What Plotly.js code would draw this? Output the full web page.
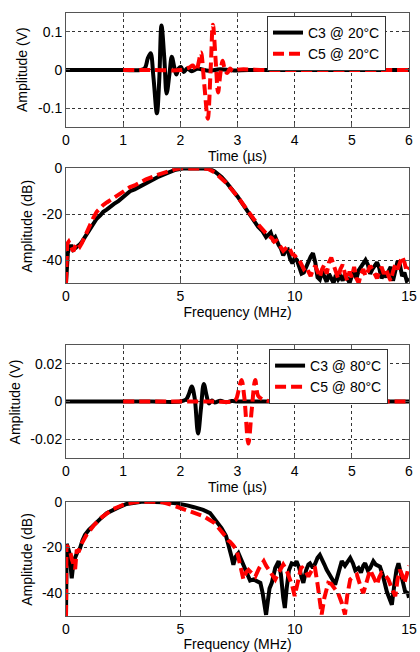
<!DOCTYPE html>
<html>
<head>
<meta charset="utf-8">
<script src="https://cdn.plot.ly/plotly-3.0.1.min.js"></script>
<style>html,body{margin:0;padding:0;background:#fff;}#chart{width:420px;height:652px;}</style>
</head>
<body>
<div id="chart"></div>
<script>
// ---------- Data ----------
// Panel 1: time signals at 20 °C
const t_c3_20 = [0, 0.5, 1.0, 1.3, 1.38, 1.43, 1.48, 1.53, 1.59, 1.63, 1.67, 1.72, 1.76, 1.81, 1.85, 1.89, 1.93, 1.97, 2.01, 2.06, 2.12, 2.2, 2.3, 2.5, 2.7, 2.9, 3.2, 4, 5, 6];
const v_c3_20 = [0, 0, 0, 0, 0.005, 0.03, 0.044, -0.02, -0.114, -0.03, 0.117, 0.03, -0.062, -0.01, 0.035, 0.01, -0.012, 0.004, 0.008, -0.005, 0.004, -0.003, 0.003, -0.002, 0.002, -0.001, 0, 0, 0, 0];
const t_c5_20 = [1, 1.5, 2, 2.15, 2.22, 2.28, 2.32, 2.36, 2.42, 2.48, 2.53, 2.57, 2.62, 2.66, 2.70, 2.74, 2.78, 2.82, 2.87, 2.92, 3.0, 3.5, 4, 5, 6];
const v_c5_20 = [0, 0, 0, 0.006, 0.012, -0.002, 0.02, 0.046, -0.04, -0.128, 0.0, 0.119, 0.02, -0.059, -0.01, 0.024, 0.0, -0.008, 0.004, -0.003, 0.001, 0, 0, 0, 0];

// Panel 2: spectra at 20 °C
const f_c3_20 = [0, 0.03, 0.08, 0.15, 0.25, 0.32, 0.39, 0.46, 0.54, 0.62, 0.7, 0.76, 0.9, 1.05, 1.2, 1.34, 1.5, 1.63, 1.78, 1.92, 2.1, 2.29, 2.5, 2.8, 3.0, 3.5, 4.0, 4.5, 4.8, 5.1, 5.5, 6.0, 6.3, 6.5, 6.8, 7.0, 7.5, 8.0, 8.2, 8.4, 8.6, 8.75, 8.85, 8.95, 9.05, 9.15, 9.3, 9.4, 9.5, 9.6, 9.7, 9.8, 9.9, 10.0, 10.1, 10.2, 10.3, 10.4, 10.5, 10.6, 10.7, 10.8, 10.9, 11.0, 11.1, 11.2, 11.3, 11.4, 11.5, 11.6, 11.7, 11.8, 11.9, 12.0, 12.1, 12.2, 12.3, 12.4, 12.5, 12.6, 12.7, 12.8, 12.9, 13.0, 13.1, 13.2, 13.3, 13.4, 13.5, 13.6, 13.7, 13.8, 13.9, 14.0, 14.1, 14.2, 14.3, 14.4, 14.5, 14.6, 14.7, 14.8, 14.9, 15.0];
const a_c3_20 = [-50, -44, -37, -34, -34, -35.5, -35, -34.5, -34, -33, -32, -31, -29, -26.8, -24.5, -22, -20.5, -19, -18, -16.7, -15.5, -14.3, -12.5, -10, -9.2, -6.3, -3.9, -1.8, -0.6, -0.1, 0, 0, -0.3, -1.4, -3.8, -6, -12.3, -19.5, -23, -25.5, -27.5, -30, -29, -28, -31, -30, -33.5, -35, -38, -36, -35.5, -39.5, -41.5, -39, -40, -42.5, -46, -45.5, -43, -40.5, -38.5, -37, -41, -47.5, -48.5, -45, -47, -49.5, -46, -48, -50, -46.5, -48.5, -47, -49, -46, -48, -50, -47, -45.5, -48, -44.5, -43, -41.5, -40, -42, -46, -44, -42.5, -41, -43.5, -48, -46, -47.5, -45, -43, -49, -44, -40.5, -42, -47, -45.5, -49, -48];
const f_c5_20 = [0, 0.02, 0.05, 0.12, 0.2, 0.32, 0.4, 0.47, 0.55, 0.61, 0.7, 0.83, 0.95, 1.05, 1.2, 1.34, 1.5, 1.63, 1.8, 2.07, 2.3, 2.51, 2.8, 3.0, 3.5, 4.0, 4.5, 4.8, 5.0, 5.5, 6.0, 6.2, 6.5, 6.8, 7.0, 7.5, 8.0, 8.2, 8.4, 8.6, 8.8, 9.0, 9.1, 9.2, 9.3, 9.4, 9.5, 9.6, 9.7, 9.8, 9.9, 10.0, 10.1, 10.2, 10.3, 10.4, 10.5, 10.6, 10.7, 10.8, 10.9, 11.0, 11.1, 11.2, 11.3, 11.4, 11.5, 11.6, 11.7, 11.8, 11.9, 12.0, 12.1, 12.2, 12.3, 12.4, 12.5, 12.6, 12.7, 12.8, 12.9, 13.0, 13.1, 13.2, 13.3, 13.4, 13.5, 13.6, 13.7, 13.8, 13.9, 14.0, 14.1, 14.2, 14.3, 14.4, 14.5, 14.6, 14.7, 14.8, 14.9, 15.0];
const a_c5_20 = [-50, -38, -33, -32, -34, -36.2, -34, -32.6, -33, -34, -32.5, -29.7, -26.5, -24, -21.5, -19, -17.3, -16, -14.8, -13, -11.5, -10.2, -8.2, -7.5, -4.8, -2.9, -1.2, -0.3, 0, 0, 0, -0.2, -1.8, -4.3, -6.3, -12.3, -19.6, -22, -24.5, -27, -29, -30.5, -32, -31.5, -33, -34, -36, -35, -34, -35.5, -37.5, -38, -39.5, -40, -42, -44, -43, -45, -47, -44, -42.5, -45, -47.5, -44, -42, -46, -41, -39, -42, -45, -48, -44, -42, -46, -49, -45, -47.5, -43, -48, -50, -46, -44, -47, -45, -42.5, -44, -46, -48, -45, -43, -46, -44, -47, -49, -45, -42, -44, -41, -38.5, -41, -45, -43];

// Panel 3: time signals at 80 °C
const t_c3_80 = [0, 0.5, 1, 1.5, 2.0, 2.1, 2.15, 2.2, 2.25, 2.31, 2.36, 2.41, 2.46, 2.5, 2.55, 2.6, 2.7, 2.8, 2.9, 3.0, 3.5, 4, 5, 6];
const v_c3_80 = [0, 0, 0, 0, 0, 0.001, 0.004, 0.0079, 0.002, -0.017, -0.004, 0.0093, 0.003, -0.001, 0.0005, -0.0005, 0.0004, -0.0004, 0.0003, 0, 0, 0, 0, 0];
const t_c5_80 = [1, 1.5, 2, 2.5, 2.9, 2.97, 3.02, 3.07, 3.12, 3.19, 3.25, 3.31, 3.36, 3.42, 3.48, 3.55, 3.7, 4, 5, 6];
const v_c5_80 = [0, 0, 0, 0, 0, 0.001, 0.006, 0.0114, 0.002, -0.0223, -0.004, 0.0114, 0.003, 0.0015, 0.0008, 0.0002, 0, 0, 0, 0];

// Panel 4: spectra at 80 °C
const f_c3_80 = [0, 0.03, 0.08, 0.15, 0.2, 0.25, 0.3, 0.39, 0.5, 0.61, 0.72, 0.83, 1.0, 1.2, 1.5, 1.78, 2.0, 2.3, 2.65, 3.0, 3.3, 3.6, 4.0, 4.5, 4.8, 5.0, 5.3, 5.6, 6.0, 6.3, 6.6, 6.8, 7.0, 7.17, 7.25, 7.32, 7.42, 7.54, 7.65, 7.75, 7.84, 7.95, 8.05, 8.2, 8.35, 8.5, 8.6, 8.7, 8.75, 8.82, 8.9, 9.0, 9.15, 9.3, 9.4, 9.5, 9.57, 9.65, 9.75, 9.87, 10.0, 10.08, 10.2, 10.3, 10.38, 10.5, 10.6, 10.67, 10.8, 10.9, 11.0, 11.1, 11.2, 11.3, 11.4, 11.55, 11.65, 11.77, 11.9, 12.06, 12.2, 12.3, 12.43, 12.55, 12.65, 12.79, 12.9, 13.0, 13.08, 13.2, 13.3, 13.44, 13.55, 13.73, 13.85, 14.03, 14.15, 14.25, 14.35, 14.45, 14.54, 14.65, 14.75, 14.83, 14.95, 15.0];
const a_c3_80 = [-50, -18.5, -20, -22.5, -28, -33.5, -29, -24.7, -22, -20.4, -17, -14.5, -12.3, -10.2, -7.5, -5, -3.8, -2.5, -1, -0.4, 0, 0, 0, -0.3, -0.7, -1, -1.6, -2.4, -3.6, -5, -8.5, -11.5, -15, -20.5, -24.5, -27.6, -24, -22.5, -25, -28, -29.5, -32, -34.5, -34, -35, -35.5, -40, -47, -49.5, -44, -38, -35.5, -29, -26, -32, -42, -46.5, -38, -30, -27, -27.5, -26, -29, -33, -35.5, -30, -27.5, -27, -29, -27, -24.5, -23.3, -25, -27.5, -29.8, -32, -34, -36.3, -31, -26, -28, -26.5, -24.6, -27, -30, -29, -31, -28, -26.9, -30, -29, -26, -27.5, -28.4, -32, -39.3, -43, -45.1, -37, -30, -26.9, -31, -36, -39.3, -40, -42];
const f_c5_80 = [0, 0.02, 0.08, 0.17, 0.25, 0.32, 0.4, 0.47, 0.55, 0.69, 0.8, 0.9, 1.0, 1.2, 1.5, 1.78, 2.0, 2.3, 2.65, 3.0, 3.3, 4.0, 4.2, 4.5, 4.8, 5.0, 5.5, 6.0, 6.5, 6.8, 7.0, 7.1, 7.17, 7.3, 7.46, 7.6, 7.76, 7.87, 7.98, 8.1, 8.28, 8.45, 8.65, 8.75, 8.86, 9.0, 9.15, 9.3, 9.5, 9.65, 9.79, 9.9, 10.0, 10.15, 10.29, 10.45, 10.6, 10.75, 10.88, 11.0, 11.1, 11.18, 11.3, 11.47, 11.6, 11.77, 11.9, 12.06, 12.2, 12.3, 12.43, 12.55, 12.72, 12.85, 13.0, 13.15, 13.3, 13.45, 13.6, 13.7, 13.8, 13.95, 14.1, 14.25, 14.4, 14.5, 14.6, 14.7, 14.8, 14.9, 15.0];
const a_c5_80 = [-50, -19, -20, -21, -25, -27.6, -29.5, -21, -22, -18.2, -16, -14.5, -13.2, -10.5, -7.3, -4.9, -3.5, -2.2, -0.8, -0.2, 0, 0, -0.2, -1, -2, -2.7, -4.6, -6.3, -9.3, -12.8, -15.5, -17, -17.5, -19, -21, -27, -34, -31, -29.8, -31, -32.7, -29, -26, -28, -29.8, -32, -34, -31, -27.5, -30, -34, -37, -41.3, -34, -28.4, -30, -32.7, -30, -28.4, -36, -45, -49.3, -42, -35.5, -36, -38.4, -40, -44.3, -49.3, -41, -34, -33, -31.9, -36, -40, -35, -29.8, -33, -36.3, -33, -31.1, -32, -34, -38, -41.3, -34, -29.8, -32, -35.5, -32, -28];

// Names, axis titles and tick labels
const names = ['C3 @ 20°C', 'C5 @ 20°C', 'C3 @ 80°C', 'C5 @ 80°C'];
const yTitles = ['Amplitude (V)', 'Amplitude (dB)', 'Amplitude (V)', 'Amplitude (dB)'];
const timeTicks = [0, 1, 2, 3, 4, 5, 6];
const freqTicks = [0, 5, 10, 15];
const v20Ticks = [-0.1, 0, 0.1];
const v20Text = ['-0.1', '0', '0.1'];
const v80Ticks = [-0.02, 0, 0.02];
const v80Text = ['-0.02', '0', '0.02'];
const dbTicks = [-40, -20, 0];
const dbText = ['-40', '-20', '0'];

// ---------- Styling ----------
const FONT = 'Liberation Sans, Arial, sans-serif';
const BLACK = {color: '#000000', width: 4};
const RED = {color: '#ff0000', width: 4, dash: '11px,5px'};

function xa(range, ticks, title, anchor) {
  return {
    domain: [0, 1], anchor: anchor, range: range,
    tickmode: 'array', tickvals: ticks, ticktext: ticks.map(String),
    showgrid: true, gridcolor: '#333333', griddash: 'dot', gridwidth: 1,
    zeroline: false, showline: true, linecolor: '#555555', linewidth: 1, mirror: 'ticks',
    ticks: 'inside', ticklen: 4, tickcolor: '#555555',
    tickfont: {size: 14, family: FONT, color: '#000'},
    title: {text: title, font: {size: 14, family: FONT, color: '#000'}, standoff: 2}
  };
}
function ya(domain, range, ticks, text, anchor) {
  return {
    domain: domain, anchor: anchor, range: range,
    tickmode: 'array', tickvals: ticks, ticktext: text,
    showgrid: true, gridcolor: '#333333', griddash: 'dot', gridwidth: 1,
    zeroline: false, showline: true, linecolor: '#555555', linewidth: 1, mirror: 'ticks',
    ticks: 'inside', ticklen: 4, tickcolor: '#555555',
    tickfont: {size: 14, family: FONT, color: '#000'}
  };
}

const traces = [
  {x: t_c3_20, y: v_c3_20, xaxis: 'x', yaxis: 'y', mode: 'lines', name: names[0], line: Object.assign({shape: 'spline'}, BLACK), legend: 'legend'},
  {x: t_c5_20, y: v_c5_20, xaxis: 'x', yaxis: 'y', mode: 'lines', name: names[1], line: Object.assign({shape: 'spline'}, RED), legend: 'legend'},
  {x: f_c3_20, y: a_c3_20, xaxis: 'x2', yaxis: 'y2', mode: 'lines', showlegend: false, line: BLACK},
  {x: f_c5_20, y: a_c5_20, xaxis: 'x2', yaxis: 'y2', mode: 'lines', showlegend: false, line: RED},
  {x: t_c3_80, y: v_c3_80, xaxis: 'x3', yaxis: 'y3', mode: 'lines', name: names[2], line: Object.assign({shape: 'spline'}, BLACK), legend: 'legend2'},
  {x: t_c5_80, y: v_c5_80, xaxis: 'x3', yaxis: 'y3', mode: 'lines', name: names[3], line: Object.assign({shape: 'spline'}, RED), legend: 'legend2'},
  {x: f_c3_80, y: a_c3_80, xaxis: 'x4', yaxis: 'y4', mode: 'lines', showlegend: false, line: BLACK},
  {x: f_c5_80, y: a_c5_80, xaxis: 'x4', yaxis: 'y4', mode: 'lines', showlegend: false, line: RED}
];

const legendStyle = (x, y) => ({
  x: x, y: y, xanchor: 'left', yanchor: 'top',
  bgcolor: '#ffffff', bordercolor: '#333333', borderwidth: 1,
  font: {size: 14, family: FONT, color: '#000'},
  tracegroupgap: 0, itemwidth: 30
});

// y-axis titles as rotated paper annotations (x in plot-area fraction, y = panel centre)
const titleX = [-0.128, -0.114, -0.149, -0.114];
const titleY = [0.8926, 0.6539, 0.3842, 0.1428];
const annotations = yTitles.map((t, i) => ({
  text: t, xref: 'paper', yref: 'paper', x: titleX[i], y: titleY[i],
  xanchor: 'center', yanchor: 'middle', textangle: -90, showarrow: false,
  font: {size: 14, family: FONT, color: '#000'}
}));

const layout = {
  width: 420, height: 652,
  margin: {l: 66, r: 11, t: 0, b: 0},
  paper_bgcolor: '#ffffff', plot_bgcolor: '#ffffff',
  font: {family: FONT, size: 14, color: '#000'},
  showlegend: true,
  xaxis: xa([0, 6], timeTicks, 'Time (µs)', 'y'),
  yaxis: ya([0.8052, 0.9801], [-0.15, 0.15], v20Ticks, v20Text, 'x'),
  xaxis2: xa([0, 15], freqTicks, 'Frequency (MHz)', 'y2'),
  yaxis2: ya([0.5660, 0.7419], [-50, 0], dbTicks, dbText, 'x2'),
  xaxis3: xa([0, 6], timeTicks, 'Time (µs)', 'y3'),
  yaxis3: ya([0.2975, 0.4709], [-0.03, 0.03], v80Ticks, v80Text, 'x3'),
  xaxis4: xa([0, 15], freqTicks, 'Frequency (MHz)', 'y4'),
  yaxis4: ya([0.0552, 0.2305], [-50, 0], dbTicks, dbText, 'x4'),
  legend: legendStyle(0.586, 0.9755),
  legend2: legendStyle(0.592, 0.4647),
  annotations: annotations
};

Plotly.newPlot('chart', traces, layout, {displayModeBar: false, staticPlot: true});
</script>
</body>
</html>
